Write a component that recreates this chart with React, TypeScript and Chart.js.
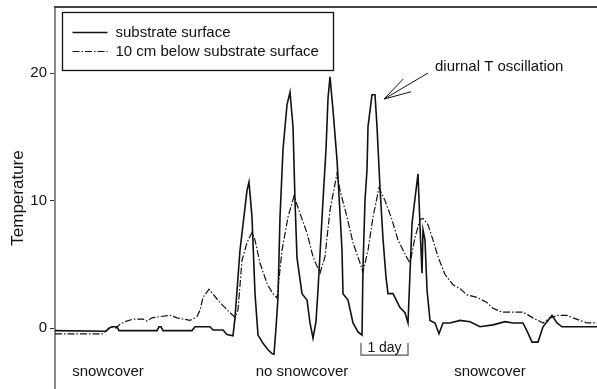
import React, { useEffect, useRef } from "react";
import { Chart, registerables } from "chart.js";

Chart.register(...registerables);

// time axis in arbitrary units (1 day ≈ 47 units), temperature in °C
const surfaceTime = [0, 51, 54, 57, 62, 64, 102, 104, 106, 108, 137, 140, 155, 158, 168, 172, 178, 180, 185, 192, 194, 197, 200, 203, 208, 213, 217, 219, 221, 223, 225, 228, 232, 235, 238, 240, 242, 247, 252, 255, 258, 261, 263, 268, 271, 273, 275, 278, 282, 285, 287, 288, 293, 298, 303, 307, 308, 310, 312, 313, 317, 320, 322, 325, 328, 331, 333, 338, 345, 350, 353, 357, 363, 365, 367, 368, 370, 372, 375, 380, 384, 388, 395, 405, 415, 425, 438, 450, 458, 468, 473, 477, 483, 488, 493, 497, 502, 507, 542];
const surfaceTemp = [-0.2, -0.25, 0.0, 0.1, 0.1, -0.2, -0.2, 0.1, 0.1, -0.2, -0.2, 0.1, 0.1, -0.15, -0.15, -0.5, -0.6, 0.8, 6.1, 10.8, 11.45, 8.7, 2.7, -0.55, -1.2, -1.7, -2.0, -2.05, 0.0, 2.4, 8.7, 14.0, 17.5, 18.5, 15.8, 10.0, 5.5, 2.7, 2.2, 0.4, -0.8, 0.5, 3.0, 10.0, 14.0, 18.0, 19.7, 17.1, 13.2, 9.0, 6.1, 2.7, 2.2, 0.4, -0.3, -0.55, 4.8, 10.0, 12.4, 15.8, 18.3, 18.3, 15.8, 11.0, 7.0, 4.0, 2.7, 2.7, 1.6, 1.2, 0.4, 8.2, 12.1, 8.0, 4.3, 7.7, 6.9, 3.0, 0.6, 0.4, -0.45, 0.4, 0.4, 0.6, 0.5, 0.1, 0.25, 0.5, 0.4, 0.4, -0.4, -1.1, -1.1, 0.1, 0.6, 1.0, 0.4, 0.1, 0.1];

const belowTime = [0, 48, 52, 57, 61, 65, 70, 78, 88, 92, 97, 105, 115, 122, 135, 142, 145, 148, 154, 165, 175, 180, 183, 187, 192, 197, 200, 205, 212, 217, 222, 227, 233, 239, 245, 252, 258, 265, 270, 275, 282, 285, 292, 298, 305, 308, 313, 318, 324, 330, 337, 343, 352, 355, 360, 365, 368, 373, 378, 383, 390, 398, 405, 412, 422, 432, 438, 447, 468, 478, 488, 495, 503, 512, 518, 525, 532, 542];
const belowTemp = [-0.45, -0.45, -0.15, 0.1, 0.0, 0.3, 0.5, 0.7, 0.7, 0.55, 0.8, 0.9, 1.0, 0.8, 0.6, 0.9, 1.4, 2.4, 3.05, 2.0, 1.2, 0.85, 1.4, 5.3, 6.7, 7.5, 6.9, 5.1, 3.5, 2.8, 2.35, 6.1, 8.7, 10.35, 9.0, 7.45, 5.6, 4.3, 5.6, 9.25, 12.1, 10.8, 8.7, 6.7, 5.1, 4.4, 6.1, 8.7, 11.0, 10.0, 8.5, 6.9, 5.5, 5.1, 7.1, 8.5, 8.6, 8.1, 6.9, 5.6, 4.2, 3.4, 3.1, 2.6, 2.4, 2.0, 1.55, 1.25, 1.25, 0.8, 0.4, 0.8, 1.0, 1.0, 0.8, 0.6, 0.4, 0.4];

const seriesLabels = ["substrate surface", "10 cm below substrate surface"];
const yTicks = [0, 10, 20];
const yTitle = "Temperature";
// bottom labels: [text, time, temp]
const periodLabels: [string, number, number][] = [
  ["snowcover", 53, -3.45],
  ["no snowcover", 247, -3.45],
  ["snowcover", 435, -3.45],
];
const dayStart = 306;
const dayEnd = 353;
const dayLabel = "1 day";
const noteText = "diurnal T oscillation";
const noteTextPos = [380, 20.47];
const noteTail = [373, 20.0];
const noteTip = [329, 17.96];

const FONT = "'Liberation Sans', Arial, Helvetica, sans-serif";
const INK = "#111";
const DASH = [7, 2, 1.5, 2];

const decorPlugin = {
  id: "decor",
  afterDraw(chart: any) {
    const { ctx, chartArea, scales } = chart;
    const xs = scales.x;
    const ys = scales.y;
    const px = (t: number) => xs.getPixelForValue(t);
    const py = (v: number) => ys.getPixelForValue(v);
    ctx.save();
    // top frame line
    ctx.strokeStyle = "#444";
    ctx.lineWidth = 2;
    ctx.beginPath();
    ctx.moveTo(chartArea.left - 1, chartArea.top);
    ctx.lineTo(chartArea.right, chartArea.top);
    ctx.stroke();

    // legend box
    const lx = chartArea.left + 7.5;
    const ly = chartArea.top + 5.5;
    ctx.fillStyle = "#fff";
    ctx.fillRect(lx, ly, 271, 58);
    ctx.strokeStyle = INK;
    ctx.lineWidth = 1.3;
    ctx.strokeRect(lx, ly, 271, 58);
    ctx.font = `15px ${FONT}`;
    ctx.fillStyle = INK;
    ctx.textBaseline = "middle";
    ctx.textAlign = "left";
    const rows = [ly + 20, ly + 39];
    rows.forEach((ry, i) => {
      ctx.beginPath();
      ctx.lineWidth = i === 0 ? 1.6 : 1.2;
      ctx.setLineDash(i === 0 ? [] : DASH);
      ctx.moveTo(lx + 10, ry);
      ctx.lineTo(lx + 45, ry);
      ctx.stroke();
      ctx.setLineDash([]);
      ctx.fillText(seriesLabels[i], lx + 53, ry);
    });

    // period labels
    ctx.textAlign = "center";
    ctx.font = `15px ${FONT}`;
    periodLabels.forEach(([txt, t, v]) => {
      ctx.fillText(txt, px(t), py(v));
    });

    // 1 day bracket
    const x1 = px(dayStart);
    const x2 = px(dayEnd);
    const yTop = py(-1.18);
    const yBot = py(-2.12);
    ctx.strokeStyle = "#555";
    ctx.lineWidth = 1.2;
    ctx.beginPath();
    ctx.moveTo(x1, yTop);
    ctx.lineTo(x1, yBot);
    ctx.lineTo(x2, yBot);
    ctx.lineTo(x2, yTop);
    ctx.stroke();
    ctx.font = `14px ${FONT}`;
    ctx.fillStyle = INK;
    ctx.textBaseline = "alphabetic";
    ctx.fillText(dayLabel, (x1 + x2) / 2, yBot - 3);

    // annotation
    ctx.font = `15px ${FONT}`;
    ctx.textAlign = "left";
    ctx.textBaseline = "middle";
    ctx.fillText(noteText, px(noteTextPos[0]), py(noteTextPos[1]));
    const tx = px(noteTip[0]);
    const ty = py(noteTip[1]);
    const sx = px(noteTail[0]);
    const sy = py(noteTail[1]);
    ctx.strokeStyle = INK;
    ctx.lineWidth = 1;
    ctx.beginPath();
    ctx.moveTo(sx, sy);
    ctx.lineTo(tx, ty);
    const ang = Math.atan2(sy - ty, sx - tx);
    const len = 28;
    const spread = (15.5 * Math.PI) / 180;
    ctx.moveTo(tx + len * Math.cos(ang - spread), ty + len * Math.sin(ang - spread));
    ctx.lineTo(tx, ty);
    ctx.lineTo(tx + len * Math.cos(ang + spread), ty + len * Math.sin(ang + spread));
    ctx.stroke();
    ctx.restore();
  },
};

export default function App() {
  const ref = useRef<HTMLCanvasElement | null>(null);
  useEffect(() => {
    if (!ref.current) return;
    const chart = new Chart(ref.current, {
      type: "line",
      data: {
        datasets: [
          {
            label: seriesLabels[0],
            data: surfaceTime.map((t, i) => ({ x: t, y: surfaceTemp[i] })),
            borderColor: INK,
            borderWidth: 1.6,
            pointRadius: 0,
            tension: 0,
          },
          {
            label: seriesLabels[1],
            data: belowTime.map((t, i) => ({ x: t, y: belowTemp[i] })),
            borderColor: INK,
            borderWidth: 1.2,
            borderDash: DASH,
            pointRadius: 0,
            tension: 0,
          },
        ],
      },
      options: {
        responsive: false,
        animation: false,
        devicePixelRatio: 1,
        layout: { padding: { top: 7, left: 0, right: 0, bottom: 0 } },
        plugins: { legend: { display: false }, tooltip: { enabled: false } },
        scales: {
          x: { type: "linear", min: 0, max: 542, display: false },
          y: {
            type: "linear",
            min: -4.78,
            max: 25.18,
            afterBuildTicks: (scale: any) => {
              scale.ticks = yTicks.map((v) => ({ value: v }));
            },
            afterFit: (scale: any) => {
              scale.width = 55;
              scale.paddingTop = 0;
              scale.paddingBottom = 0;
            },
            ticks: {
              font: { family: FONT, size: 15 },
              color: INK,
              padding: 3,
            },
            grid: {
              drawOnChartArea: false,
              tickLength: 5,
              color: "#333",
              lineWidth: 1,
            },
            border: { color: "#888", width: 2 },
            title: {
              display: true,
              text: yTitle,
              font: { family: FONT, size: 17 },
              color: INK,
              padding: { top: 8, bottom: 0 },
            },
          },
        },
      },
      plugins: [decorPlugin],
    });
    return () => chart.destroy();
  }, []);
  return (
    <div style={{ position: "fixed", left: 0, top: 0, width: 597, height: 389, background: "#fff" }}>
      <canvas ref={ref} width={597} height={389} />
    </div>
  );
}
